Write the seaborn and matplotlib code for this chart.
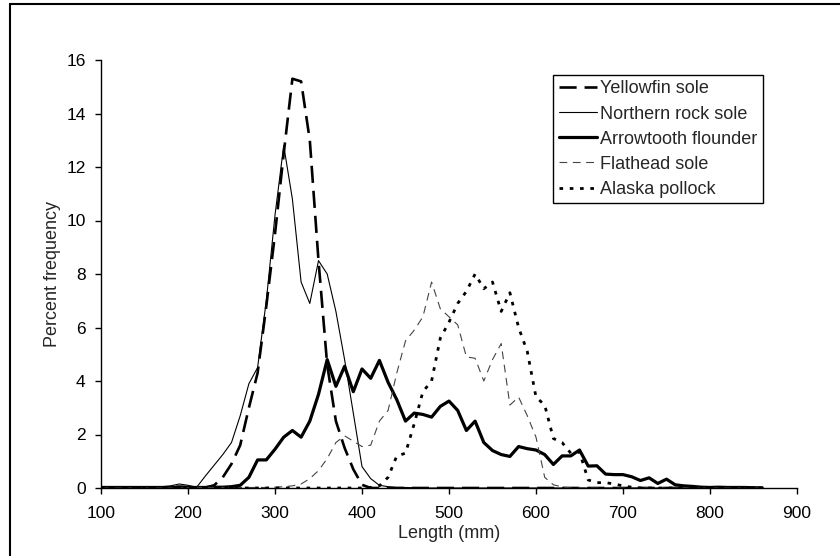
import numpy as np
import pandas as pd
import matplotlib
matplotlib.use("Agg")
import matplotlib.pyplot as plt
from matplotlib.lines import Line2D
import seaborn as sns

# --- Data (percent frequency by 10 mm length bin) ---
lengths = list(range(100, 870, 10))

yellowfin = [0, 0, 0, 0, 0, 0, 0, 0,
             0.02, 0.05,
             0.03, 0.0, 0.02, 0.1, 0.4,
             0.9, 1.6, 3.0, 4.3, 6.8,
             9.5, 12.5, 15.3, 15.2, 13.0,
             8.5, 4.6, 2.5, 1.5, 0.7,
             0.12, 0, 0, 0, 0,
             0, 0, 0, 0, 0,
             0, 0, 0, 0, 0,
             0, 0, 0, 0, 0,
             0, 0, 0, 0, 0,
             0, 0, 0, 0, 0,
             0, 0, 0, 0, 0,
             0, 0, 0, 0, 0,
             0, 0, 0, 0, 0,
             0, 0]

northern_rock = [0.02, 0.02, 0.02, 0.02, 0.02, 0.02, 0.03, 0.05,
                 0.08, 0.15,
                 0.1, 0.03, 0.45, 0.85, 1.25,
                 1.7, 2.7, 3.9, 4.5, 7.0,
                 10.2, 12.8, 10.8, 7.7, 6.9,
                 8.5, 8.0, 6.6, 4.8, 2.8,
                 0.8, 0.35, 0.1, 0.05, 0.02,
                 0.02, 0.01, 0, 0, 0,
                 0, 0, 0, 0, 0,
                 0, 0, 0, 0, 0,
                 0, 0, 0, 0, 0,
                 0, 0, 0, 0, 0,
                 0, 0, 0, 0, 0,
                 0, 0, 0, 0, 0,
                 0, 0, 0, 0, 0,
                 0, 0]

arrowtooth = [0.02, 0.02, 0.02, 0.02, 0.02, 0.02, 0.02, 0.02,
              0.02, 0.03,
              0.02, 0.02, 0.02, 0.03, 0.03,
              0.05, 0.1, 0.4, 1.05, 1.05,
              1.45, 1.9, 2.15, 1.9, 2.5,
              3.5, 4.8, 3.8, 4.55, 3.6,
              4.45, 4.1, 4.77, 3.95, 3.3,
              2.5, 2.8, 2.75, 2.65, 3.05,
              3.25, 2.9, 2.15, 2.5, 1.7,
              1.4, 1.25, 1.18, 1.55, 1.47,
              1.42, 1.25, 0.88, 1.2, 1.2,
              1.42, 0.82, 0.83, 0.52, 0.5,
              0.5, 0.42, 0.28, 0.38, 0.17,
              0.33, 0.12, 0.08, 0.06, 0.03,
              0.02, 0.03, 0.02, 0.02, 0.02,
              0.01, 0.01]

flathead = [0, 0, 0, 0, 0, 0, 0, 0,
            0, 0,
            0.02, 0.02, 0.02, 0.02, 0.02,
            0.02, 0.02, 0.02, 0.02, 0.02,
            0.03, 0.05, 0.08, 0.15, 0.35,
            0.65, 1.1, 1.7, 1.95, 1.75,
            1.55, 1.6, 2.5, 2.9, 4.3,
            5.5, 5.9, 6.4, 7.7, 6.7,
            6.4, 6.1, 4.9, 4.85, 4.0,
            4.8, 5.4, 3.1, 3.4, 2.7,
            1.9, 0.4, 0.12, 0.04, 0,
            0, 0, 0, 0, 0,
            0, 0, 0, 0, 0,
            0, 0, 0, 0, 0,
            0, 0, 0, 0, 0,
            0, 0]

pollock = [0, 0, 0, 0, 0, 0, 0, 0,
           0, 0,
           0, 0, 0, 0, 0,
           0, 0, 0, 0, 0,
           0, 0, 0, 0, 0,
           0, 0, 0, 0, 0,
           0.0, 0.02, 0.08, 0.4, 1.2,
           1.3, 2.4, 3.6, 4.0, 5.6,
           6.2, 6.9, 7.35, 8.0, 7.45,
           7.7, 6.6, 7.3, 6.0, 5.1,
           3.4, 3.1, 1.85, 1.7, 1.3,
           1.35, 0.3, 0.2, 0.2, 0.15,
           0.08, 0.03, 0, 0, 0,
           0, 0, 0, 0, 0,
           0, 0, 0, 0, 0,
           0, 0]

species = ["Yellowfin sole", "Northern rock sole", "Arrowtooth flounder",
           "Flathead sole", "Alaska pollock"]
series = [yellowfin, northern_rock, arrowtooth, flathead, pollock]

# line styles: (color, linewidth, dash pattern)
styles = {
    "Yellowfin sole": ("black", 1.9, (0, (6.5, 3))),
    "Northern rock sole": ("black", 0.8, "-"),
    "Arrowtooth flounder": ("black", 2.3, "-"),
    "Flathead sole": ("#444444", 0.8, (0, (7, 5))),
    "Alaska pollock": ("black", 2.0, (0, (1.3, 2.4))),
}

# --- Plot ---
sns.set_style("ticks")
plt.rcParams['font.family'] = ['Liberation Sans', 'DejaVu Sans']
FS = 13

fig = plt.figure(figsize=(8.4, 5.56), dpi=100)
# axes box: x 101..797 px, y 60..488 px
ax = fig.add_axes([101 / 840, 1 - 488 / 556, 696 / 840, 428 / 556])

for name, vals in zip(species, series):
    color, lw, ls = styles[name]
    df = pd.DataFrame({"Length": lengths, "Percent": vals})
    sns.lineplot(data=df, x="Length", y="Percent", ax=ax, color=color,
                 linewidth=lw, linestyle=ls, label=name)

ax.set_xlim(100, 900)
ax.set_ylim(0, 16)
ax.set_xticks(range(100, 1000, 100))
ax.set_yticks(range(0, 18, 2))
ax.set_xlabel("Length (mm)", fontsize=FS, labelpad=3)
ax.set_ylabel("Percent frequency", fontsize=FS, labelpad=4)
ax.tick_params(axis="both", direction="out", length=4, width=1,
               colors="black", labelsize=12.5)
ax.tick_params(axis="x", pad=9)
ax.tick_params(axis="y", pad=7)
sns.despine(ax=ax)
for s in ["left", "bottom"]:
    ax.spines[s].set_color("black")
    ax.spines[s].set_linewidth(1)

leg = ax.legend(loc="upper right", bbox_to_anchor=(0.951, 0.965),
                borderaxespad=0, frameon=True, fancybox=False,
                handlelength=2.1, handletextpad=0.2, labelspacing=0.45,
                borderpad=0.3, fontsize=FS)
leg.get_frame().set_edgecolor("black")
leg.get_frame().set_linewidth(1)
leg.get_frame().set_alpha(1)

# outer frame (top and left edges of the original figure box)
fig.add_artist(Line2D([10 / 840, 1], [1 - 4 / 556, 1 - 4 / 556],
                      color="black", lw=1.5, transform=fig.transFigure))
fig.add_artist(Line2D([10 / 840, 10 / 840], [0, 1 - 4 / 556],
                      color="black", lw=1.5, transform=fig.transFigure))

fig.savefig("out.png", dpi=100)
